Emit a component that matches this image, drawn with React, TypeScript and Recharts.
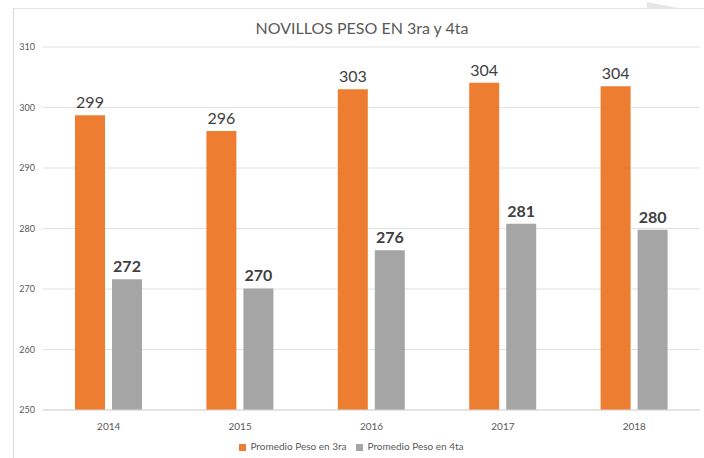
import * as React from "react";
import {
  BarChart,
  Bar,
  XAxis,
  YAxis,
  CartesianGrid,
  Legend,
  LabelList,
} from "recharts";

const years = ["2014", "2015", "2016", "2017", "2018"];
const peso3ra = [298.7, 296.1, 303.0, 304.1, 303.5];
const peso4ta = [271.6, 270.1, 276.4, 280.8, 279.8];
const yTicks = [250, 260, 270, 280, 290, 300, 310];

const FONT = "Lato, 'Open Sans', sans-serif";
const ORANGE = "#ED7D31";
const GRAY = "#A5A5A5";

const data = years.map((year, i) => ({
  year,
  "Promedio Peso en 3ra": peso3ra[i],
  "Promedio Peso en 4ta": peso4ta[i],
}));

const round = (v: any) => Math.round(Number(v));

export default function App() {
  return (
    <div
      style={{
        position: "absolute",
        left: 0,
        top: 0,
        width: 704,
        height: 458,
        background: "#fff",
        fontFamily: FONT,
        overflow: "hidden",
      }}
    >
      {/* frame of the original chart */}
      <div
        style={{
          position: "absolute",
          left: 13,
          top: 8,
          width: 700,
          height: 460,
          borderLeft: "1px solid #d9d9d9",
          borderTop: "1px solid #e3e3e3",
        }}
      />
      <svg
        width={704}
        height={20}
        style={{ position: "absolute", left: 0, top: 0 }}
      >
        <polygon points="647,2 683,9 647,9" fill="#e6e6e6" />
      </svg>
      <div
        style={{
          position: "absolute",
          left: 0,
          width: 704,
          top: 18,
          textAlign: "center",
          fontSize: 16,
          color: "#595959",
          paddingLeft: 20,
          boxSizing: "border-box",
        }}
      >
        NOVILLOS PESO EN 3ra y 4ta
      </div>
      <BarChart
        width={704}
        height={458}
        data={data}
        margin={{ top: 47, right: 4, left: 13, bottom: 8 }}
        barSize={30}
        barGap={7}
        style={{ position: "absolute", left: 0, top: 0 }}
      >
        <CartesianGrid vertical={false} stroke="#e0e0e0" />
        <XAxis
          dataKey="year"
          axisLine={{ stroke: "#d9d9d9" }}
          tickLine={false}
          tick={{ fontSize: 10, fill: "#595959", fontFamily: FONT }}
          tickMargin={7}
          height={22}
        />
        <YAxis
          width={30}
          domain={[250, 310]}
          ticks={yTicks}
          axisLine={false}
          tickLine={false}
          tick={{ fontSize: 9, fill: "#595959", fontFamily: FONT }}
          allowDataOverflow
        />
        <Legend
          verticalAlign="bottom"
          height={18}
          iconType="square"
          iconSize={7}
          wrapperStyle={{
            fontSize: 10,
            color: "#595959",
            fontFamily: FONT,
            bottom: 0,
          }}
          formatter={(value) => (
            <span style={{ color: "#595959" }}>{value}</span>
          )}
        />
        <Bar
          dataKey="Promedio Peso en 3ra"
          fill={ORANGE}
          isAnimationActive={false}
        >
          <LabelList
            dataKey="Promedio Peso en 3ra"
            position="top"
            offset={7}
            formatter={round}
            style={{ fontSize: 16, fill: "#404040", fontFamily: FONT }}
          />
        </Bar>
        <Bar
          dataKey="Promedio Peso en 4ta"
          fill={GRAY}
          isAnimationActive={false}
        >
          <LabelList
            dataKey="Promedio Peso en 4ta"
            position="top"
            offset={7}
            formatter={round}
            style={{
              fontSize: 16,
              fill: "#404040",
              fontWeight: "bold",
              fontFamily: FONT,
            }}
          />
        </Bar>
      </BarChart>
    </div>
  );
}
